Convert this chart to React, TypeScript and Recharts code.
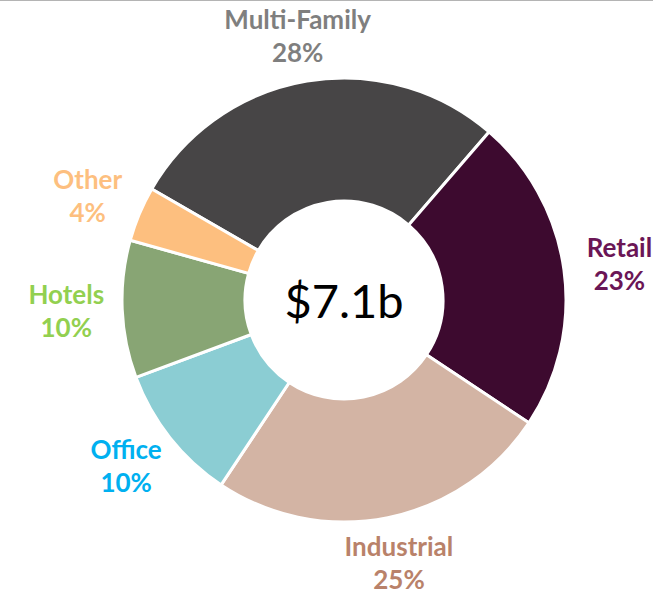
import { PieChart, Pie, Cell } from "recharts";

const categories = ["Multi-Family", "Retail", "Industrial", "Office", "Hotels", "Other"];
const shares = [28, 23, 25, 10, 10, 4];
const totalLabel = "$7.1b";

const sliceColors = ["#474546", "#3d0a2f", "#d3b4a4", "#8bcdd3", "#88a574", "#fdbf7f"];
const labelColors = ["#7f7f7f", "#6b1656", "#b9826a", "#00b0f0", "#92d050", "#fdbf7f"];

const data = categories.map((name, i) => ({ name, value: shares[i] }));

const RADIAN = Math.PI / 180;
const FONT = "Lato, 'Open Sans', sans-serif";

// labels sit on a slightly wide ellipse around the ring, like Excel's best fit
function renderLabel(props: any) {
  const { cx, cy, midAngle, outerRadius, index, name, value } = props;
  const rx = outerRadius + 56;
  const ry = outerRadius + 46;
  const x = cx + rx * Math.cos(-midAngle * RADIAN);
  const y = cy + ry * Math.sin(-midAngle * RADIAN);
  return (
    <text
      x={x}
      y={y}
      textAnchor="middle"
      fill={labelColors[index]}
      fontFamily={FONT}
      fontWeight={700}
      fontSize={26}
    >
      <tspan x={x} y={y - 7}>
        {name}
      </tspan>
      <tspan x={x} y={y + 26}>
        {value}%
      </tspan>
    </text>
  );
}

export default function App() {
  return (
    <div style={{ position: "absolute", left: 0, top: 0, width: 653, height: 592, background: "#fff" }}>
      <div style={{ position: "absolute", left: 0, top: 0, width: 653, height: 1, background: "#b4b4b4" }} />
      <PieChart width={653} height={592} margin={{ top: 0, right: 0, bottom: 0, left: 0 }}>
        <Pie
          data={data}
          dataKey="value"
          nameKey="name"
          cx={344}
          cy={300}
          innerRadius={99}
          outerRadius={222}
          startAngle={150}
          endAngle={-210}
          stroke="#ffffff"
          strokeWidth={3}
          label={renderLabel}
          labelLine={false}
          isAnimationActive={false}
        >
          {data.map((d, i) => (
            <Cell key={d.name} fill={sliceColors[i]} />
          ))}
        </Pie>
        <text
          x={344}
          y={300}
          textAnchor="middle"
          dominantBaseline="central"
          fontFamily={FONT}
          fontSize={47}
          fill="#000"
        >
          {totalLabel}
        </text>
      </PieChart>
    </div>
  );
}
